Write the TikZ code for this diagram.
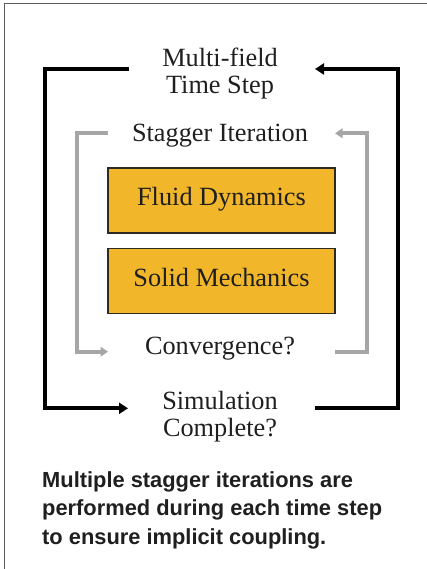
\documentclass[tikz,border=0pt]{standalone}
\usepackage{fontspec}
\setmainfont{Liberation Serif}
\newfontfamily\capfont{Liberation Sans}
\usetikzlibrary{arrows.meta}
\definecolor{loopgray}{HTML}{A6A6A6}
\definecolor{boxgold}{HTML}{F1B629}
\definecolor{boxedge}{HTML}{2E2A22}
\definecolor{inkdark}{HTML}{1F1F1F}
\definecolor{framegray}{HTML}{5A5A5A}
\begin{document}
\begin{tikzpicture}[x=1pt,y=-1pt,
  label text/.style={font=\fontsize{26.3}{27}\selectfont, text=inkdark,
    align=center, inner sep=0pt, anchor=base},
  stagebox/.style={draw=boxedge, fill=boxgold, line width=1.3pt,
    minimum width=227pt, minimum height=65pt, inner sep=0pt,
    text height=16pt, text depth=6pt,
    font=\fontsize{26.3}{27}\selectfont, text=inkdark},
  outerloop/.style={line width=4.3pt, black, line join=miter},
  innerloop/.style={line width=3.8pt, loopgray, line join=miter},
  outertip/.style={-{Triangle[length=9pt,width=11pt]}},
  innertip/.style={-{Triangle[length=7.5pt,width=9.5pt]}},
  note/.style={font=\capfont\bfseries\fontsize{21.85}{28.4}\selectfont,
    text=inkdark, align=left, inner sep=0pt, anchor=base west}]
\useasboundingbox (0,0) rectangle (427,569);

% page frame (top and left edges)
\draw[framegray, line width=1.2pt] (4.6,569) -- (4.6,3.6) -- (427,3.6);

% texts and stage boxes (multi-line nodes sit on their last baseline)
\node[label text] (ts) at (220,94) {Multi-field\\Time Step};
\node[label text] (si) at (220,142) {Stagger Iteration};
\node[stagebox] (fd) at (221.5,200.5) {Fluid Dynamics};
\node[stagebox] (sm) at (221.5,281) {Solid Mechanics};
\node[label text] (cv) at (220,354) {Convergence?};
\node[label text] (sc) at (220,436) {Simulation\\Complete?};
\node[note] (cap) at (42,544) {Multiple stagger iterations are\\performed during each time step\\to ensure implicit coupling.};

% loop end points
\coordinate (tsW) at (129,69);
\coordinate (tsE) at (315,69);
\coordinate (scW) at (128,408.3);
\coordinate (scE) at (315,408.3);
\coordinate (oW) at (45,240);
\coordinate (oE) at (398,240);
\coordinate (siW) at (108,133.3);
\coordinate (siE) at (335,133.3);
\coordinate (cvW) at (108,351.7);
\coordinate (cvE) at (335,351.7);
\coordinate (iW) at (77,240);
\coordinate (iE) at (367,240);

% time step loop
\draw[outerloop, outertip] (tsW) -| (oW) |- (scW);
\draw[outerloop, outertip] (scE) -| (oE) |- (tsE);

% stagger iteration loop
\draw[innerloop, innertip] (siW) -| (iW) |- (cvW);
\draw[innerloop, innertip] (cvE) -| (iE) |- (siE);
\end{tikzpicture}
\end{document}
